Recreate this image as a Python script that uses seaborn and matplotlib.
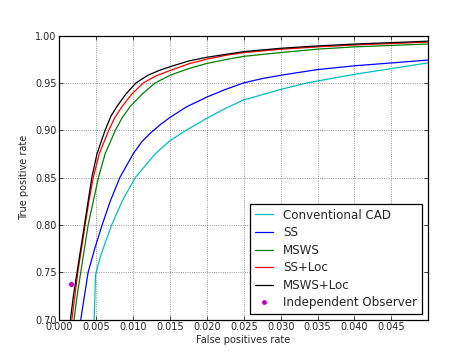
import pandas as pd
import numpy as np
import seaborn as sns
import matplotlib
matplotlib.use("Agg")
import matplotlib.pyplot as plt
from matplotlib.lines import Line2D

# -------------------------
# Data
# -------------------------
methods = ['Conventional CAD', 'SS', 'MSWS', 'SS+Loc', 'MSWS+Loc']
colors = ['c', 'b', 'g', 'r', 'k']

cad_fpr = [0.0047, 0.0048, 0.0049, 0.0055, 0.0063, 0.0071, 0.0085, 0.0103, 0.0130,
           0.0150, 0.0172, 0.020, 0.0225, 0.025, 0.030, 0.0336, 0.040, 0.045, 0.0499]
cad_tpr = [0.70, 0.72, 0.747, 0.765, 0.783, 0.80, 0.825, 0.85, 0.875,
           0.889, 0.90, 0.9126, 0.923, 0.932, 0.943, 0.950, 0.959, 0.965, 0.971]

ss_fpr = [0.0029, 0.0034, 0.0039, 0.0048, 0.0058, 0.0069, 0.0082, 0.0100, 0.0112,
          0.0125, 0.0137, 0.015, 0.0172, 0.020, 0.0225, 0.025, 0.0275, 0.030,
          0.035, 0.040, 0.045, 0.0499]
ss_tpr = [0.70, 0.725, 0.75, 0.775, 0.80, 0.825, 0.85, 0.875, 0.888,
          0.898, 0.906, 0.9135, 0.9245, 0.935, 0.943, 0.950, 0.9545, 0.958,
          0.964, 0.968, 0.971, 0.974]

msws_fpr = [0.0020, 0.0024, 0.0029, 0.0034, 0.0039, 0.0046, 0.0053, 0.0062, 0.0076,
            0.0085, 0.0096, 0.0112, 0.0130, 0.015, 0.0175, 0.020, 0.0225, 0.025,
            0.030, 0.035, 0.040, 0.045, 0.0499]
msws_tpr = [0.70, 0.725, 0.75, 0.775, 0.80, 0.825, 0.85, 0.875, 0.90,
            0.913, 0.925, 0.938, 0.95, 0.958, 0.965, 0.9705, 0.9745, 0.978,
            0.982, 0.9856, 0.988, 0.9895, 0.991]

ssloc_fpr = [0.0017, 0.0021, 0.0025, 0.0030, 0.0035, 0.0040, 0.0046, 0.0054, 0.0067,
             0.0075, 0.0085, 0.0098, 0.0114, 0.0130, 0.015, 0.0175, 0.020, 0.0225,
             0.025, 0.030, 0.035, 0.040, 0.045, 0.0499]
ssloc_tpr = [0.70, 0.725, 0.75, 0.775, 0.80, 0.825, 0.85, 0.875, 0.90,
             0.913, 0.925, 0.938, 0.95, 0.957, 0.963, 0.970, 0.975, 0.979,
             0.982, 0.9855, 0.988, 0.990, 0.9915, 0.993]

mswsloc_fpr = [0.0015, 0.0019, 0.0024, 0.0029, 0.0034, 0.0039, 0.0044, 0.0051, 0.0062,
               0.0070, 0.0078, 0.0090, 0.0104, 0.0120, 0.0135, 0.015, 0.0175, 0.020,
               0.0225, 0.025, 0.030, 0.035, 0.040, 0.045, 0.0499]
mswsloc_tpr = [0.70, 0.725, 0.75, 0.775, 0.80, 0.825, 0.85, 0.875, 0.90,
               0.915, 0.925, 0.938, 0.95, 0.958, 0.963, 0.967, 0.973, 0.977,
               0.980, 0.983, 0.9865, 0.989, 0.991, 0.9925, 0.994]

observer_fpr = [0.0016]
observer_tpr = [0.737]

all_fpr = [cad_fpr, ss_fpr, msws_fpr, ssloc_fpr, mswsloc_fpr]
all_tpr = [cad_tpr, ss_tpr, msws_tpr, ssloc_tpr, mswsloc_tpr]

# long-form table for seaborn
frames = []
for name, fpr, tpr in zip(methods, all_fpr, all_tpr):
    frames.append(pd.DataFrame({'fpr': fpr, 'tpr': tpr, 'method': name}))
df = pd.concat(frames, ignore_index=True)

# -------------------------
# Plot
# -------------------------
sns.set_style('ticks', {'xtick.direction': 'in', 'ytick.direction': 'in',
                        'axes.edgecolor': 'black'})
plt.rcParams['font.family'] = ['DejaVu Sans']

fig = plt.figure(figsize=(4.75, 3.55), dpi=100)
ax = fig.add_axes([0.125, 0.1, 0.775, 0.8])

palette = dict(zip(methods, colors))
sns.lineplot(data=df, x='fpr', y='tpr', hue='method', palette=palette,
             estimator=None, sort=False, linewidth=0.9, legend=False, ax=ax)
sns.scatterplot(x=observer_fpr, y=observer_tpr, color='m', s=14,
                edgecolor='m', linewidth=0, ax=ax, zorder=5)

ax.set_xlim(0, 0.0499)
ax.set_ylim(0.70, 1.00)
ax.set_xticks(np.arange(0, 0.0451, 0.005))
ax.set_yticks(np.arange(0.70, 1.001, 0.05))
ax.xaxis.set_major_formatter(matplotlib.ticker.FormatStrFormatter('%.3f'))
ax.yaxis.set_major_formatter(matplotlib.ticker.FormatStrFormatter('%.2f'))
ax.tick_params(labelsize=7, top=True, right=True, length=3, width=0.6, pad=2)
ax.set_xlabel('False positives rate', fontsize=7, labelpad=2)
ax.set_ylabel('True positive rate', fontsize=7, labelpad=4)
ax.grid(True, color='0.45', linestyle=':', linewidth=0.6)
for sp in ax.spines.values():
    sp.set_linewidth(0.9)
    sp.set_color('black')

handles = [Line2D([], [], color=c, lw=0.9) for c in colors]
handles.append(Line2D([], [], color='m', marker='o', ls='none', markersize=3.5,
                      markeredgewidth=0))
leg = ax.legend(handles, methods + ['Independent Observer'], loc='lower right',
                fontsize=8.6, frameon=True, fancybox=False, framealpha=1,
                borderaxespad=0.45, labelspacing=0.38, handlelength=1.5,
                handletextpad=0.9, borderpad=0.4)
leg.get_frame().set_edgecolor('black')
leg.get_frame().set_linewidth(0.9)

fig.savefig('out.png', dpi=100)
